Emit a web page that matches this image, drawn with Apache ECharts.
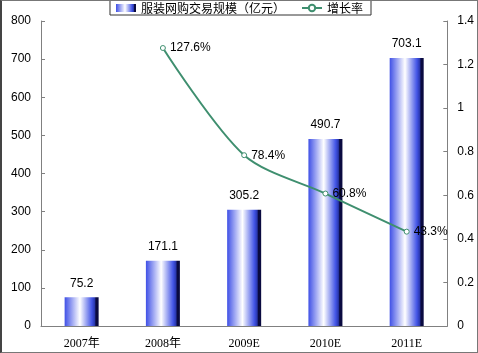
<!DOCTYPE html>
<html><head><meta charset="utf-8">
<script src="https://cdn.jsdelivr.net/npm/echarts@6/dist/echarts.min.js"></script>
<style>html,body{margin:0;padding:0;background:#fff}#c{width:478px;height:353px;box-sizing:border-box;border:1px solid #777;border-left:2px solid #444}</style>
</head><body><div id="c"></div>
<script>
var categories = ['2007年','2008年','2009E','2010E','2011E'];
var scaleValues = [75.2, 171.1, 305.2, 490.7, 703.1];
var growthValues = [null, 1.276, 0.784, 0.608, 0.433];
var leftTicks = [0, 800, 100];
var rightTicks = [0, 1.4, 0.2];

var chart = echarts.init(document.getElementById('c'));
var barGrad = new echarts.graphic.LinearGradient(0,0,1,0,[
  {offset:0,color:'#3f50e6'},
  {offset:0.45,color:'#ffffff'},
  {offset:0.8,color:'#4355e6'},
  {offset:0.88,color:'#2a38b0'},
  {offset:0.92,color:'#0a0a40'},
  {offset:1,color:'#0a0a40'}
]);
var axisFont = {fontFamily:'Liberation Sans, Arial, sans-serif', fontSize:12, color:'#000'};
chart.setOption({
  animation:false,
  grid:{left:39,right:26,top:20,bottom:26},
  legend:{
    top:-1, left:'center',
    borderColor:'#333', borderWidth:1, padding:[2,8,1,6], itemGap:16,
    itemWidth:20, itemHeight:8,
    textStyle:{fontFamily:'Noto Sans CJK SC', fontSize:12, color:'#000'},
    data:[{name:'服装网购交易规模（亿元）', icon:'rect'},{name:'增长率'}]
  },
  xAxis:{
    type:'category', data:categories,
    axisLine:{lineStyle:{color:'#808080'}},
    axisTick:{inside:true, length:4, lineStyle:{color:'#808080'}},
    axisLabel:{fontFamily:'Liberation Serif, Noto Sans CJK SC, serif', fontSize:12, color:'#000', margin:12}
  },
  yAxis:[{
    type:'value', min:leftTicks[0], max:leftTicks[1], interval:leftTicks[2],
    axisLine:{show:true, lineStyle:{color:'#808080'}},
    axisTick:{show:true, inside:true, length:4, lineStyle:{color:'#808080'}},
    splitLine:{show:false},
    axisLabel:Object.assign({margin:10}, axisFont)
  },{
    type:'value', min:rightTicks[0], max:rightTicks[1], interval:rightTicks[2],
    axisLine:{show:true, lineStyle:{color:'#808080'}},
    axisTick:{show:true, inside:true, length:4, lineStyle:{color:'#808080'}},
    splitLine:{show:false},
    axisLabel:Object.assign({margin:10, formatter:function(v){return String(+v.toFixed(1));}}, axisFont)
  }],
  series:[{
    name:'服装网购交易规模（亿元）', type:'bar', data:scaleValues, barWidth:34,
    itemStyle:{color:barGrad},
    label:{show:true, position:'top', distance:8, fontFamily:'Liberation Sans, Arial, sans-serif', fontSize:12, color:'#000',
      formatter:function(p){return p.value.toFixed(1);}}
  },{
    name:'增长率', type:'line', yAxisIndex:1, data:growthValues, smooth:0.3,
    symbol:'circle', symbolSize:5, showAllSymbol:true,
    itemStyle:{color:'#fff', borderColor:'#3f8f6f', borderWidth:1},
    lineStyle:{color:'#3f8f6f', width:2},
    label:{show:true, position:'right', distance:4, fontFamily:'Liberation Sans, Arial, sans-serif', fontSize:12, color:'#000',
      formatter:function(p){return (p.value*100).toFixed(1)+'%';}}
  }]
});
</script></body></html>
